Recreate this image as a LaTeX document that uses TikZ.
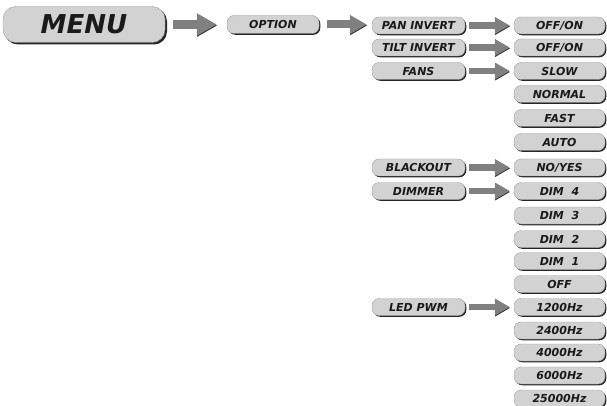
\documentclass[tikz,border=0pt]{standalone}
\usepackage{fontspec}
\setmainfont{DejaVu Sans}
\usetikzlibrary{arrows.meta,shadows}
\definecolor{boxfill}{HTML}{D2D2D2}
\definecolor{boxedge}{HTML}{A0A0A0}
\definecolor{arrowgray}{HTML}{808080}
\definecolor{inkcol}{HTML}{1A1A1A}
\tikzset{
  item/.style={rounded corners=7pt, fill=boxfill, draw=boxedge, line width=0.4pt,
    minimum height=17pt, inner sep=0pt, text=inkcol,
    font=\fontsize{11}{12}\selectfont\bfseries\itshape,
    general shadow={fill=black!85, shadow xshift=1.3pt, shadow yshift=-1.3pt}},
  menubox/.style={item, rounded corners=13pt, minimum width=162pt, minimum height=36pt,
    font=\fontsize{26}{30}\selectfont\bfseries\itshape,
    general shadow={fill=black!85, shadow xshift=2pt, shadow yshift=-2pt}},
  optbox/.style={item, minimum width=92pt, minimum height=18pt},
  colthree/.style={item, minimum width=93pt},
  colfour/.style={item, minimum width=91pt},
  bigarrow/.style={draw=arrowgray, line width=9pt, -{Triangle[length=20pt,width=21pt]},
    preaction={draw=black!80, transform canvas={shift={(0.4pt,-1pt)}}}},
  midarrow/.style={draw=arrowgray, line width=8pt, -{Triangle[length=17pt,width=18pt]},
    preaction={draw=black!80, transform canvas={shift={(0.4pt,-1pt)}}}},
  smallarrow/.style={draw=arrowgray, line width=6.5pt, -{Triangle[length=15pt,width=16pt]},
    preaction={draw=black!80, transform canvas={shift={(0.4pt,-0.9pt)}}}},
}
\begin{document}
\begin{tikzpicture}[x=1pt,y=-1pt]
\useasboundingbox (0,0) rectangle (607,406);
\node[menubox] (menu) at (84,24.5) {MENU};
\node[optbox] (option) at (273,24.5) {OPTION};
% column three
\node[colthree] (pan) at (418.5,25.5) {PAN INVERT};
\node[colthree] (tilt) at (418.5,47.5) {TILT INVERT};
\node[colthree] (fans) at (418.5,71) {FANS};
\node[colthree] (blackout) at (418.5,167.5) {BLACKOUT};
\node[colthree] (dimmer) at (418.5,191) {DIMMER};
\node[colthree] (ledpwm) at (418.5,307) {LED PWM};
% column four
\foreach \y/\t [count=\i from 0] in {25.5/{OFF/ON},47.5/{OFF/ON},71/SLOW,94/NORMAL,118/FAST,142/AUTO,167.5/{NO/YES},191/{DIM\ \ 4},215.5/{DIM\ \ 3},239/{DIM\ \ 2},261/{DIM\ \ 1},284/OFF,307/1200Hz,330.5/2400Hz,352.5/4000Hz,375.5/6000Hz,398.5/25000Hz}
  \node[colfour] (r\i) at (559.5,\y) {\t};
% arrows
\draw[bigarrow, shorten <=8pt, shorten >=10pt] (menu.east) -- (menu.east -| option.west);
\draw[midarrow, shorten <=8pt, shorten >=5pt] (option.east) -- (option.east -| pan.west);
\foreach \a/\b in {pan/r0,tilt/r1,fans/r2,blackout/r6,dimmer/r7,ledpwm/r12}
  \draw[smallarrow, shorten <=4pt, shorten >=4pt] (\a.east) -- (\a.east -| \b.west);
\end{tikzpicture}
\end{document}
